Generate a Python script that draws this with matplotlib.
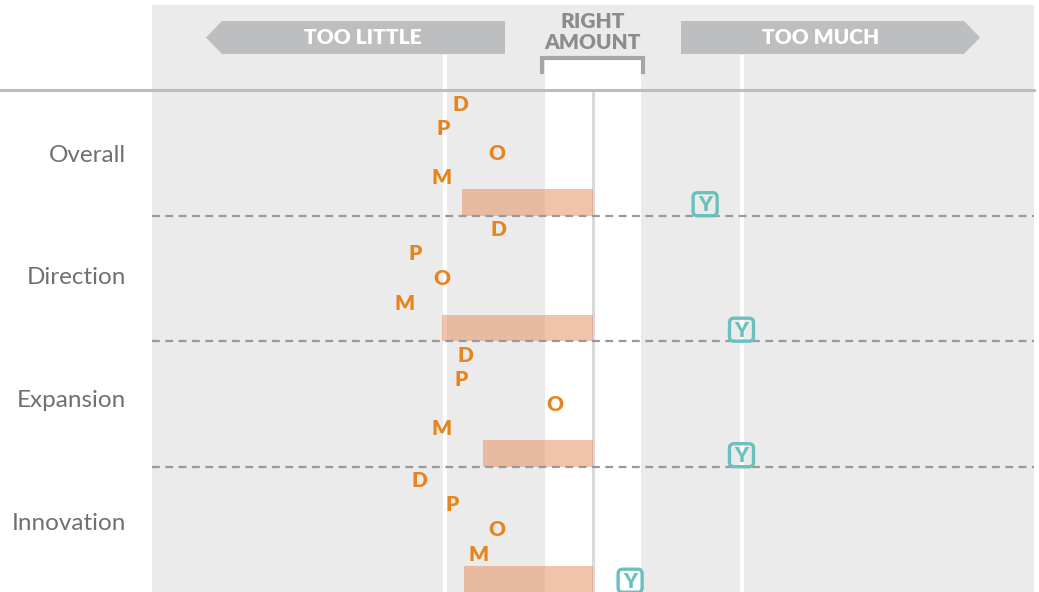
import matplotlib as mpl
import numpy as np
mpl.rcParams.update({'font.family': ['Lato', 'DejaVu Sans']})
from matplotlib import pyplot as plt
from matplotlib.patches import Rectangle, Polygon, FancyBboxPatch

# scale: -1 = too little, 0 = right amount, +1 = too much
categories = ["Overall", "Direction", "Expansion", "Innovation"]
d_vals = [-0.89, -0.64, -0.86, -1.17]
p_vals = [-1.01, -1.20, -0.89, -0.95]
o_vals = [-0.65, -1.02, -0.26, -0.65]
m_vals = [-1.02, -1.27, -1.02, -0.77]
y_vals = [0.755, 1.0, 1.0, 0.25]
bar_vals = [-0.88, -1.02, -0.74, -0.87]

ORANGE = '#e6851e'
TEAL = '#6cc0bb'
BAR = (230 / 255, 141 / 255, 95 / 255)

# pixel helpers for the layout (figure is 1039x592)
X0, XS = 593, 148.5
Y0, YS = 90, 125.5
def px(x):
    return (x - X0) / XS
def py(y):
    return (y - Y0) / YS

fig = plt.figure(figsize=(10.39, 5.92), dpi=100)
ax = fig.add_axes([0, 0, 1, 1])
ax.set_xlim(px(0), px(1039))
ax.set_ylim(py(592), py(0))
ax.set_axis_off()

# background panel and right-amount band
ax.add_patch(Rectangle((px(152), py(5)), px(1034) - px(152), 4 - py(5), fc='#ebebeb', ec='none', zorder=0))
ax.add_patch(Rectangle((px(545), py(60)), px(641) - px(545), 4 - py(60), fc='white', ec='none', zorder=1))
ax.vlines([-1, 1], py(55), 4, color='white', lw=3, zorder=1)
ax.vlines(0, 0, 4, color='#d9d9d9', lw=2.2, zorder=2)
ax.plot([px(542), px(542), px(643), px(643)], [py(72), py(58), py(58), py(72)],
        color='#a6a6a6', lw=3, solid_joinstyle='miter', zorder=3)
ax.plot([px(0), px(1034)], [0, 0], color='#bdbdbd', lw=2.2, zorder=3)
ax.hlines([1, 2, 3], px(152), px(1034), color='#999999', lw=1.6, linestyles=(0, (3.5, 2.5)), zorder=5)

# header arrows
ax.add_patch(Polygon([(px(206), py(37.5)), (px(222), py(21)), (px(505), py(21)),
                      (px(505), py(54)), (px(222), py(54))], fc='#bdbec0', ec='none', zorder=2))
ax.add_patch(Polygon([(px(681), py(21)), (px(964), py(21)), (px(980), py(37.5)),
                      (px(964), py(54)), (px(681), py(54))], fc='#bdbec0', ec='none', zorder=2))
ax.text(px(363), py(38), "TOO LITTLE", color='white', fontsize=15, fontweight='heavy',
        ha='center', va='center', zorder=3)
ax.text(px(821), py(38), "TOO MUCH", color='white', fontsize=15, fontweight='heavy',
        ha='center', va='center', zorder=3)
ax.text(0, py(21), "RIGHT", color='#8c8c8c', fontsize=15, fontweight='heavy',
        ha='center', va='center', zorder=3)
ax.text(0, py(42), "AMOUNT", color='#8c8c8c', fontsize=15, fontweight='heavy',
        ha='center', va='center', zorder=3)

rows = np.arange(len(categories))
ax.barh(rows + 0.895, 0 - np.array(bar_vals), left=bar_vals, height=0.21,
        color=BAR, alpha=0.52, zorder=4)

offsets = {'D': 0.115, 'P': 0.305, 'O': 0.505, 'M': 0.70}
series = {'D': d_vals, 'P': p_vals, 'O': o_vals, 'M': m_vals}
for i, cat in enumerate(categories):
    ax.text(px(126), py(155) + i * 122.7 / YS, cat, ha='right', va='center',
            fontsize=17.5, color='#707070')
    for letter, vals in series.items():
        ax.text(vals[i], i + offsets[letter], letter, color=ORANGE, fontsize=15,
                fontweight='heavy', ha='center', va='center', zorder=6)
    bw, bh = 24 / XS, 23 / YS
    ax.add_patch(FancyBboxPatch((y_vals[i] - bw / 2, i + 0.91 - bh / 2), bw, bh,
                                boxstyle='round,pad=0,rounding_size=0.03',
                                mutation_aspect=XS / YS, fc='none', ec=TEAL, lw=2.4, zorder=6))
    ax.text(y_vals[i], i + 0.915, "Y", color=TEAL, fontsize=15, fontweight='heavy',
            ha='center', va='center', zorder=7)

fig.savefig('out.png', dpi=100)
